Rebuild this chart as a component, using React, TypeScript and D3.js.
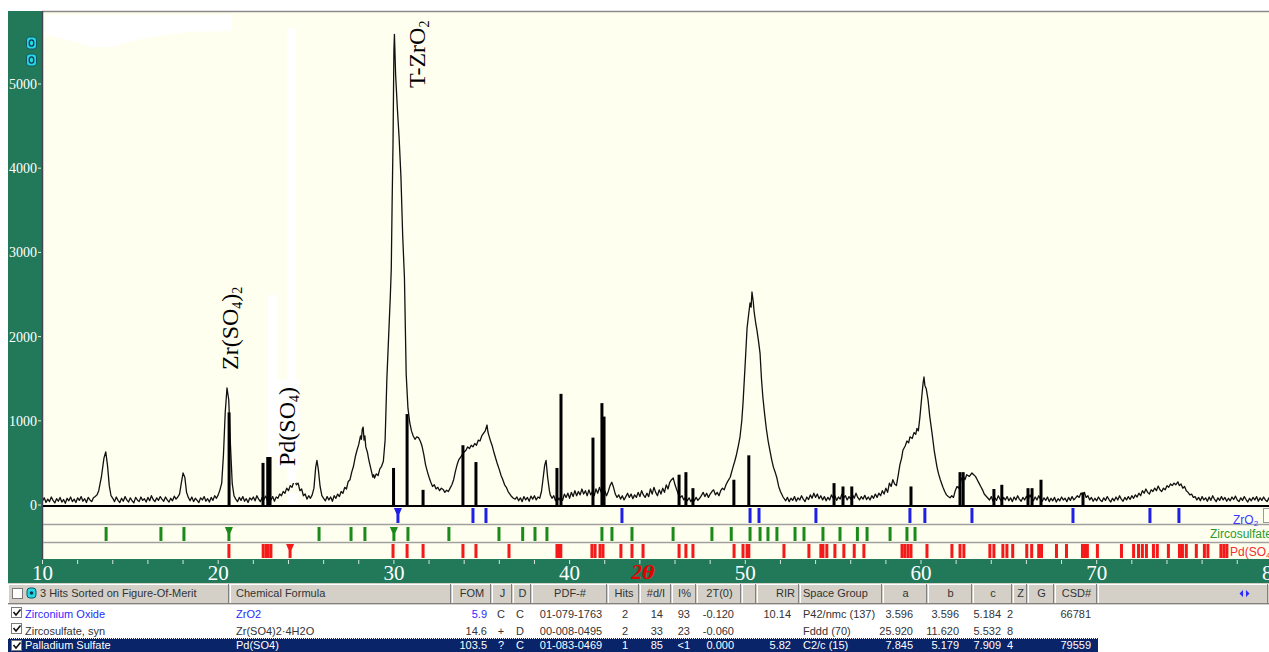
import React from 'react';
import * as d3 from 'd3';

const W = 1269;
const H = 652;

// ---- data ----
const yTickValues = [0, 1000, 2000, 3000, 4000, 5000];
const xLabelValues = [10, 20, 30, 40, 50, 60, 70, 80];

// measured XRD trace [2theta, counts]
const trace: [number, number][] = [
[10.0,50],[10.1,85],[10.2,30],[10.3,70],[10.4,40],[10.5,95],[10.6,55],[10.7,25],[10.8,75],[10.9,45],[11.0,90],[11.1,35],[11.2,65],[11.3,20],[11.4,80],[11.5,50],[11.6,95],[11.7,40],[11.8,70],[11.9,30],[12.0,85],[12.1,55],[12.2,100],[12.3,45],[12.4,75],[12.5,30],[12.6,90],[12.7,60],[12.8,40],[12.9,85],[13.0,100],[13.1,120],[13.2,170],[13.35,330],[13.5,560],[13.6,630],[13.7,470],[13.8,230],[13.9,110],
[14.0,80],[14.1,40],[14.2,95],[14.3,55],[14.4,30],[14.5,80],[14.6,45],[14.7,100],[14.8,60],[14.9,35],[15.0,85],[15.1,50],[15.2,25],[15.3,90],[15.4,60],[15.5,40],[15.6,95],[15.7,55],[15.8,75],[15.9,35],[16.0,90],[16.1,50],[16.2,110],[16.3,65],[16.4,40],[16.5,85],[16.6,55],[16.7,100],[16.8,70],[16.9,45],[17.0,95],[17.1,60],[17.2,35],[17.3,80],[17.4,50],[17.5,105],[17.6,70],[17.7,95],[17.8,130],[17.9,260],[18.0,380],[18.1,330],[18.2,150],
[18.3,90],[18.4,50],[18.5,95],[18.6,40],[18.7,80],[18.8,55],[18.9,30],[19.0,85],[19.1,60],[19.2,100],[19.3,45],[19.4,75],[19.5,35],[19.6,90],[19.7,55],[19.8,110],[19.9,80],[20.0,120],[20.1,180],[20.2,260],[20.3,600],[20.4,1100],[20.5,1390],[20.6,1250],[20.7,700],[20.8,250],
[20.9,110],[21.0,70],[21.1,40],[21.2,90],[21.3,55],[21.4,100],[21.5,45],[21.6,75],[21.7,30],[21.8,85],[21.9,60],[22.0,95],[22.1,50],[22.2,110],[22.3,70],[22.4,40],[22.5,90],[22.6,65],[22.7,105],[22.8,55],[22.9,85],[23.0,60],[23.1,100],[23.2,45],[23.3,95],[23.4,80],[23.5,130],[23.6,110],[23.7,160],[23.8,140],[23.9,200],[24.0,170],[24.1,230],[24.2,210],[24.35,300],[24.45,240],[24.55,260],[24.65,170],[24.75,190],[24.85,110],[24.95,130],[25.05,70],[25.15,110],[25.25,80],[25.35,120],[25.45,200],[25.55,450],[25.62,530],[25.7,420],[25.8,220],[25.9,110],
[26.0,80],[26.1,50],[26.2,100],[26.3,60],[26.4,95],[26.5,45],[26.6,110],[26.7,80],[26.8,130],[26.9,100],[27.0,160],[27.1,140],[27.2,210],[27.3,190],[27.4,280],[27.5,300],[27.6,390],[27.7,460],[27.8,570],[27.9,650],[28.0,720],[28.1,820],[28.15,780],[28.2,900],[28.25,925],[28.3,770],[28.35,820],[28.4,690],[28.5,620],[28.55,560],[28.6,510],[28.7,420],[28.8,330],[28.85,360],[28.9,320],[29.0,370],[29.1,350],[29.2,430],[29.3,460],[29.4,520],
[29.5,770],[29.6,1500],[29.7,2000],[29.8,2500],[29.85,2800],[29.9,3600],[29.95,4300],[30.0,5400],[30.03,5590],[30.1,5100],[30.2,4700],[30.3,4350],[30.4,3900],[30.5,3200],[30.6,2700],[30.7,1550],[30.8,1150],[30.9,980],
[31.0,880],[31.1,820],[31.2,780],[31.3,810],[31.4,800],[31.5,760],[31.6,700],[31.7,600],[31.8,480],[31.9,400],[32.0,330],[32.1,270],[32.2,220],[32.3,240],[32.4,190],[32.5,210],[32.6,170],[32.7,200],[32.8,185],[32.9,150],[33.0,175],[33.1,160],[33.2,200],[33.3,240],[33.4,300],[33.5,400],[33.6,480],[33.7,540],[33.8,570],[33.9,600],[34.0,630],[34.1,650],[34.2,690],[34.3,670],[34.4,710],[34.5,690],[34.6,730],[34.7,710],[34.8,770],[34.9,760],[35.0,820],[35.1,850],[35.2,880],[35.3,950],[35.35,870],[35.4,830],[35.5,760],[35.6,700],[35.7,620],[35.8,550],[35.9,480],[36.0,420],[36.1,350],[36.2,300],[36.3,240],[36.4,210],[36.5,160],[36.6,130],[36.7,100],[36.8,80],
[36.9,70],[37.0,95],[37.1,50],[37.2,85],[37.3,40],[37.4,100],[37.5,60],[37.6,90],[37.7,45],[37.8,105],[37.9,70],[38.0,110],[38.1,60],[38.2,95],[38.3,80],[38.4,160],[38.5,330],[38.58,470],[38.66,530],[38.75,330],[38.85,170],
[38.9,120],[39.0,80],[39.1,110],[39.2,50],[39.3,95],[39.4,60],[39.5,100],[39.6,55],[39.7,130],[39.8,90],[39.9,140],[40.0,80],[40.1,150],[40.2,100],[40.3,170],[40.4,110],[40.5,160],[40.6,120],[40.7,190],[40.8,130],[40.9,170],[41.0,110],[41.1,180],[41.2,120],[41.3,160],[41.4,110],[41.5,190],[41.6,140],[41.7,210],[41.8,150],[41.9,130],[42.0,170],[42.1,110],[42.2,160],[42.3,230],[42.4,270],[42.5,210],[42.6,130],[42.7,90],[42.8,120],[42.9,70],[43.0,110],[43.1,60],[43.2,100],[43.3,140],[43.4,90],[43.5,130],[43.6,75],[43.7,120],[43.8,90],[43.9,150],[44.0,100],[44.1,170],[44.2,120],[44.3,90],[44.4,140],[44.5,100],[44.6,190],[44.7,130],[44.8,210],[44.9,150],[45.0,110],[45.1,180],[45.2,130],[45.3,200],[45.4,150],[45.5,240],[45.6,190],[45.7,270],[45.8,300],[45.9,320],[46.0,240],[46.1,180],[46.2,120],[46.3,90],[46.4,110],[46.5,60],[46.6,90],[46.7,50],[46.8,85],[46.9,40],[47.0,75],[47.1,50],[47.2,90],[47.3,55],[47.4,80],[47.5,110],[47.6,150],[47.7,100],[47.8,140],[47.9,90],[48.0,130],[48.1,160],[48.2,180],[48.3,120],[48.4,150],[48.5,110],[48.6,170],[48.7,200],[48.8,180],[48.9,240],
[49.0,280],[49.14,330],[49.3,450],[49.4,520],[49.5,600],[49.6,700],[49.7,810],[49.8,1000],[49.87,1210],[50.0,1700],[50.1,2100],[50.2,2280],[50.27,2400],[50.33,2350],[50.38,2530],[50.45,2420],[50.5,2300],[50.6,2150],[50.66,2080],[50.75,1950],[50.84,1800],[50.92,1500],[51.0,1280],[51.1,1080],[51.2,900],[51.3,760],[51.4,650],[51.5,540],[51.6,450],[51.7,390],[51.8,320],[51.9,220],[52.0,160],
[52.15,95],[52.3,50],[52.4,90],[52.5,40],[52.6,80],[52.7,55],[52.8,100],[52.9,45],[53.0,85],[53.1,60],[53.2,110],[53.3,70],[53.4,40],[53.5,95],[53.6,65],[53.7,120],[53.8,80],[53.9,140],[54.0,90],[54.1,130],[54.2,75],[54.3,110],[54.4,60],[54.5,100],[54.6,50],[54.7,90],[54.8,60],[54.9,120],[55.0,80],[55.1,110],[55.2,55],[55.3,95],[55.4,70],[55.5,130],[55.6,85],[55.7,110],[55.8,60],[55.9,100],[56.0,70],[56.1,120],[56.2,80],[56.3,140],[56.4,90],[56.5,60],[56.6,100],[56.7,70],[56.8,115],[56.9,65],[57.0,95],[57.1,60],[57.2,110],[57.3,80],[57.4,130],[57.5,90],[57.6,140],[57.7,110],[57.8,170],[57.9,130],[58.0,200],[58.1,150],[58.2,260],[58.3,220],[58.4,300],[58.5,250],[58.6,230],[58.7,350],[58.8,480],
[58.9,560],[58.97,650],[59.1,700],[59.2,760],[59.3,740],[59.37,810],[59.5,790],[59.6,860],[59.7,840],[59.77,910],[59.85,880],[59.94,1050],[60.05,1300],[60.12,1450],[60.17,1520],[60.22,1420],[60.3,1380],[60.4,1250],[60.5,1050],[60.63,850],[60.75,650],[60.91,450],[61.0,370],[61.1,300],[61.25,210],[61.35,160],[61.45,120],[61.55,100],[61.65,85],[61.75,110],[61.85,90],
[61.95,170],[62.05,220],[62.15,200],[62.3,310],[62.4,340],[62.5,300],[62.6,360],[62.75,340],[62.9,380],[63.0,360],[63.1,340],[63.2,300],[63.3,260],[63.4,220],[63.5,180],[63.6,130],[63.75,95],
[63.9,60],[64.0,100],[64.1,45],[64.2,85],[64.3,55],[64.4,110],[64.5,70],[64.6,40],[64.7,90],[64.8,60],[64.9,100],[65.0,50],[65.1,85],[65.2,40],[65.3,95],[65.4,60],[65.5,110],[65.6,70],[65.7,45],[65.8,90],[65.9,60],[66.0,105],[66.1,65],[66.2,120],[66.3,80],[66.4,50],[66.5,95],[66.6,60],[66.7,110],[66.8,70],[66.9,45],[67.0,85],[67.1,55],[67.2,95],[67.3,40],[67.4,80],[67.5,50],[67.6,90],[67.7,35],[67.8,75],[67.9,50],[68.0,95],[68.1,60],[68.2,80],[68.3,40],[68.4,90],[68.5,55],[68.6,100],[68.7,60],[68.8,85],[68.9,110],[69.0,90],[69.1,140],[69.2,120],[69.3,150],[69.4,90],[69.5,110],[69.6,60],[69.7,90],[69.8,45],[69.9,80],[70.0,50],[70.1,95],[70.2,60],[70.3,40],[70.4,85],[70.5,55],[70.6,100],[70.7,65],[70.8,35],[70.9,80],[71.0,50],[71.1,95],[71.2,60],[71.3,110],[71.4,70],[71.5,45],[71.6,90],[71.7,60],[71.8,100],[71.9,65],[72.0,110],[72.1,80],[72.2,120],[72.3,95],[72.4,140],[72.5,110],[72.6,170],[72.7,140],[72.8,190],[72.9,150],[73.0,130],[73.1,180],[73.2,160],[73.3,200],[73.4,170],[73.5,225],[73.6,180],[73.7,160],[73.8,200],[73.9,180],[74.0,230],[74.1,210],[74.2,250],[74.3,230],[74.4,260],[74.5,240],[74.62,275],[74.7,230],[74.8,250],[74.9,200],[75.0,220],[75.1,170],[75.2,150],[75.3,120],[75.4,130],[75.5,90],[75.6,100],[75.7,60],
[75.8,90],[75.9,50],[76.0,100],[76.1,60],[76.2,85],[76.3,45],[76.4,95],[76.5,55],[76.6,110],[76.7,70],[76.8,40],[76.9,85],[77.0,55],[77.1,100],[77.2,60],[77.3,90],[77.4,45],[77.5,80],[77.6,50],[77.7,95],[77.8,65],[77.9,105],[78.0,60],[78.1,40],[78.2,85],[78.3,55],[78.4,100],[78.5,65],[78.6,35],[78.7,80],[78.8,50],[78.9,90],[79.0,60],[79.1,100],[79.2,45],[79.3,85],[79.4,55],[79.5,95],[79.6,60],[79.7,40],[79.8,85],[79.9,55],[80.0,70]
];

// sharp vertical spikes in the trace [2theta, counts]
const spikes: [number, number][] = [
[20.62,1100],[22.55,500],[22.82,570],[22.95,570],[29.98,440],[30.75,1080],[31.66,180],
[33.93,710],[34.67,510],[39.28,440],[39.51,1320],[41.33,800],[41.84,1210],[41.96,1050],
[46.23,360],[46.62,390],[47.02,200],[49.35,300],[50.2,590],[55.05,260],[55.56,220],
[56.06,220],[59.43,220],[62.22,390],[62.4,390],[64.15,190],[64.6,240],[66.09,200],
[66.32,200],[66.83,300],[69.22,150]
];

const zro2Sticks = [30.23, 34.5, 35.24, 42.98, 50.27, 50.78, 54.02, 59.37, 60.22, 62.9, 68.65, 73.03, 74.68];
const zro2Strong = [30.23];
const zircoSticks = [13.62, 16.74, 18.05, 20.61, 25.74, 27.56, 28.35, 30.0, 30.8, 33.13, 35.98, 37.33, 38.03, 38.71, 41.84, 42.41, 43.55, 45.89, 48.1, 49.2, 50.27, 50.84, 51.29, 51.8, 52.83, 53.34, 54.42, 55.39, 56.38, 56.93, 58.24, 59.2, 59.66];
const zircoStrong = [20.61, 30.0];
const pdSticks = [20.61, 22.56, 22.73, 22.84, 23.0, 24.09, 29.95, 30.75, 31.66, 33.93, 34.67, 36.55, 39.28, 39.4, 39.5, 41.27, 41.45, 41.73, 41.9, 42.92, 43.55, 44.18, 46.23, 46.62, 47.02, 49.36, 49.87, 50.1, 50.2, 52.2, 53.62, 54.3, 54.42, 54.64, 55.1, 55.61, 56.2, 56.75, 58.92, 59.08, 59.26, 59.43, 60.34, 61.76, 62.22, 62.44, 63.92, 64.15, 64.66, 64.89, 65.22, 66.02, 66.3, 66.7, 66.86, 67.71, 68.28, 69.19, 69.36, 69.47, 70.04, 71.41, 72.1, 72.38, 72.6, 72.83, 73.23, 73.45, 74.08, 74.71, 74.88, 75.1, 75.67, 76.13, 76.33, 77.07, 77.24, 77.41];
const pdStrong = [24.09];

// table
const headerLabels = ["3 Hits Sorted on Figure-Of-Merit", "Chemical Formula", "FOM", "J", "D", "PDF-#", "Hits", "#d/I", "I%", "2T(0)", "", "RIR", "Space Group", "a", "b", "c", "Z", "G", "CSD#", ""];
const columnEdges = [8, 230, 452, 492, 513, 532, 608, 640, 672, 697, 742, 757, 800, 883, 928, 973, 1013, 1028, 1055, 1098, 1269];
const phaseNames = ["Zirconium Oxide", "Zircosulfate, syn", "Palladium Sulfate"];
const formulas = ["ZrO2", "Zr(SO4)2·4H2O", "Pd(SO4)"];
const fomValues = ["5.9", "14.6", "103.5"];
const jValues = ["C", "+", "?"];
const dValues = ["C", "D", "C"];
const pdfNumbers = ["01-079-1763", "00-008-0495", "01-083-0469"];
const hitValues = ["2", "2", "1"];
const dIValues = ["14", "33", "85"];
const iPctValues = ["93", "23", "<1"];
const twoT0Values = ["-0.120", "-0.060", "0.000"];
const rirValues = ["10.14", "", "5.82"];
const spaceGroups = ["P42/nmc (137)", "Fddd (70)", "C2/c (15)"];
const aValues = ["3.596", "25.920", "7.845"];
const bValues = ["3.596", "11.620", "5.179"];
const cValues = ["5.184", "5.532", "7.909"];
const zValues = ["2", "8", "4"];
const csdValues = ["66781", "", "79559"];

const GREEN = '#22795a';
const CREAM = '#fffff0';
const SERIF = '"Liberation Serif", "Times New Roman", serif';
const SANS = '"Liberation Sans", Arial, sans-serif';

export default function App() {
  const x = d3.scaleLinear().domain([10, 80]).range([42.5, 1272.4]);
  const y = d3.scaleLinear().domain([0, 5000]).range([505, 84]);
  const line = d3.line<[number, number]>().x(d => x(d[0])).y(d => y(d[1]));
  const minorTicks = d3.range(10, 81, 2);

  const stickRows = [
    { data: zro2Sticks, strong: zro2Strong, color: '#1f1fe8', top: 508, bottom: 523 },
    { data: zircoSticks, strong: zircoStrong, color: '#1b8a1b', top: 527, bottom: 541 },
    { data: pdSticks, strong: pdStrong, color: '#f51a1a', top: 544, bottom: 558 },
  ];

  const rowTops = [605, 621, 638];
  const rowH = [16, 17, 14];

  const cols: { vals: string[]; align: 'start' | 'middle' | 'end'; pos: number }[] = [
    { vals: phaseNames, align: 'start', pos: 25 },
    { vals: formulas, align: 'start', pos: 236 },
    { vals: fomValues, align: 'end', pos: 487 },
    { vals: jValues, align: 'middle', pos: 501 },
    { vals: dValues, align: 'middle', pos: 520 },
    { vals: pdfNumbers, align: 'middle', pos: 571 },
    { vals: hitValues, align: 'middle', pos: 625 },
    { vals: dIValues, align: 'end', pos: 663 },
    { vals: iPctValues, align: 'end', pos: 690 },
    { vals: twoT0Values, align: 'end', pos: 734 },
    { vals: rirValues, align: 'end', pos: 791 },
    { vals: spaceGroups, align: 'start', pos: 803 },
    { vals: aValues, align: 'end', pos: 913 },
    { vals: bValues, align: 'end', pos: 959 },
    { vals: cValues, align: 'end', pos: 1001 },
    { vals: zValues, align: 'start', pos: 1007 },
    { vals: csdValues, align: 'end', pos: 1091 },
  ];

  return (
    <svg width={W} height={H} style={{ position: 'absolute', left: 0, top: 0, display: 'block', background: '#fff' }}>
      <defs>
        <clipPath id="plotClip">
          <rect x={43} y={12} width={W - 43} height={494} />
        </clipPath>
      </defs>
      {/* green frame */}
      <rect x={8} y={11} width={35} height={572} fill={GREEN} />
      <rect x={8} y={559} width={W - 8} height={24} fill={GREEN} />
      {/* plot background */}
      <rect x={43} y={12} width={W - 43} height={547} fill={CREAM} />
      <line x1={42} y1={11.5} x2={W} y2={11.5} stroke="#8a8a8a" strokeWidth={1.5} />
      <line x1={42.5} y1={11} x2={42.5} y2={559} stroke="#445" strokeWidth={1.5} />

      {/* cyan icons */}
      {[37, 54].map((t, i) => (
        <g key={i}>
          <rect x={26.5} y={t} width={10} height={12} rx={3} fill="#27d6e6" stroke="#0b5a66" strokeWidth={1} />
          <ellipse cx={31.5} cy={t + 6} rx={2.3} ry={3.2} fill="none" stroke="#0b3a44" strokeWidth={1.3} />
        </g>
      ))}

      {/* y axis labels */}
      {yTickValues.map(v => (
        <g key={v}>
          <text x={37} y={y(v) + 5} fill="#fff" fontFamily={SERIF} fontSize={14} textAnchor="end">{v}</text>
          <line x1={38} y1={y(v)} x2={41} y2={y(v)} stroke="#cfd" strokeWidth={1} />
        </g>
      ))}

      {/* pattern */}
      <g clipPath="url(#plotClip)">
        <path d={line(trace) || ''} fill="none" stroke="#111" strokeWidth={1.3} strokeLinejoin="round" />
        {spikes.map((s, i) => (
          <rect key={i} x={x(s[0]) - 1.5} y={y(s[1])} width={3} height={y(0) - y(s[1])} fill="#000" />
        ))}
      </g>

      {/* white erasure patches */}
      <path d="M45,15 L232,15 L232,31 L185,32 L135,40 L112,47 L92,47 L68,40 L45,34 Z" fill="#fff" />
      <rect x={287} y={28} width={9} height={455} fill="#fff" />
      <rect x={268} y={295} width={9} height={162} fill="#fff" />
      <rect x={277} y={380} width={22} height={88} fill="#fff" />
      <rect x={287} y={493} width={11} height={11} fill="#fff" />

      {/* axis baseline */}
      <line x1={43} y1={506} x2={W} y2={506} stroke="#000" strokeWidth={2.2} />

      {/* peak labels */}
      <text transform="translate(425,88) rotate(-90)" fontFamily={SERIF} fontSize={24} fill="#000">
        T-ZrO<tspan fontSize={14} dy={4}>2</tspan>
      </text>
      <text transform="translate(238,370) rotate(-90)" fontFamily={SERIF} fontSize={24} fill="#000">
        Zr(SO<tspan fontSize={14} dy={4}>4</tspan><tspan dy={-4}>)</tspan><tspan fontSize={14} dy={4}>2</tspan>
      </text>
      <text transform="translate(295,466) rotate(-90)" fontFamily={SERIF} fontSize={24} fill="#000">
        Pd(SO<tspan fontSize={14} dy={4}>4</tspan><tspan dy={-4}>)</tspan>
      </text>

      {/* stick rows */}
      <line x1={43} y1={524.5} x2={W} y2={524.5} stroke="#a0a0a0" strokeWidth={1.5} />
      <line x1={43} y1={542.5} x2={W} y2={542.5} stroke="#a0a0a0" strokeWidth={1.5} />
      {stickRows.map((r, ri) => (
        <g key={ri} fill={r.color}>
          {r.data.map((d, i) => {
            const cx = x(d);
            if (r.strong.includes(d)) {
              return (
                <path key={i} d={`M${cx - 4},${r.top} L${cx + 4},${r.top} L${cx + 1.5},${r.top + 6} L${cx + 1.5},${r.bottom} L${cx - 1.5},${r.bottom} L${cx - 1.5},${r.top + 6} Z`} />
              );
            }
            return <rect key={i} x={cx - 1.5} y={r.top} width={3} height={r.bottom - r.top} />;
          })}
        </g>
      ))}
      <text x={1233} y={524} fill="#3a3aff" fontFamily={SANS} fontSize={12}>ZrO<tspan fontSize={8} dy={2}>2</tspan></text>
      <rect x={1263.5} y={508.5} width={10} height={14} fill="none" stroke="#9a9a9a" />
      <text x={1210} y={538} fill="#2a9a2a" fontFamily={SANS} fontSize={12}>Zircosulfate</text>
      <text x={1230} y={556} fill="#f03030" fontFamily={SANS} fontSize={12}>Pd(SO<tspan fontSize={8} dy={2}>4</tspan></text>

      {/* x axis */}
      {minorTicks.map(t => (
        <line key={t} x1={x(t)} y1={560} x2={x(t)} y2={564} stroke="#d8e8e0" strokeWidth={1} />
      ))}
      {xLabelValues.map(v => (
        <text key={v} x={x(v)} y={580} fill="#fff" fontFamily={SERIF} fontSize={21} textAnchor="middle">{v}</text>
      ))}
      <text x={643} y={579} fill="#e80000" fontFamily={SERIF} fontSize={21} fontStyle="italic" fontWeight="bold" textAnchor="middle">2<tspan fontFamily='"DejaVu Serif", serif' fontSize={19}>θ</tspan></text>

      {/* table header */}
      <rect x={8} y={583} width={W - 8} height={22} fill="#d4d0c8" />
      {columnEdges.slice(0, -1).map((e, i) => {
        const r = columnEdges[i + 1];
        const label = headerLabels[i];
        let tx = (e + r) / 2;
        let anchor: 'start' | 'middle' | 'end' = 'middle';
        if (i === 0) { tx = 40; anchor = 'start'; }
        if (i === 1) { tx = e + 6; anchor = 'start'; }
        if (label === 'RIR') { tx = r - 5; anchor = 'end'; }
        if (label === 'Space Group') { tx = e + 3; anchor = 'start'; }
        return (
          <g key={i}>
            <line x1={e + 0.5} y1={584} x2={e + 0.5} y2={603} stroke="#fff" />
            <line x1={e} y1={584.5} x2={r} y2={584.5} stroke="#fff" />
            <line x1={r - 1.5} y1={584} x2={r - 1.5} y2={604} stroke="#808080" />
            <line x1={e} y1={603.5} x2={r} y2={603.5} stroke="#808080" />
            {label && (
              <text x={tx} y={597} fill="#333" fontFamily={SANS} fontSize={11} textAnchor={anchor}>{label}</text>
            )}
          </g>
        );
      })}
      <rect x={12.5} y={588.5} width={10} height={10} fill="#fff" stroke="#7a7a7a" />
      <rect x={27} y={588} width={9} height={10} rx={3} fill="#27d6e6" stroke="#0b5a66" />
      <circle cx={31.5} cy={593} r={1.8} fill="#0b3a44" />
      <path d="M1243,590 L1243,597 L1239.5,593.5 Z M1246,590 L1246,597 L1249.5,593.5 Z" fill="#2a2aff" />

      {/* table rows */}
      <rect x={8} y={605} width={W - 8} height={33} fill="#fff" />
      <rect x={8} y={638} width={1090} height={14} fill="#0a246a" />
      <line x1={8} y1={638.5} x2={1098} y2={638.5} stroke="#fff" strokeDasharray="1,1" />
      {rowTops.map((t, ri) => (
        <g key={ri}>
          <rect x={11.5} y={t + 2.5} width={10} height={10} fill="#fff" stroke="#7a7a7a" />
          <path d={`M13.5,${t + 7} L16,${t + 10} L20.5,${t + 4.5}`} fill="none" stroke="#111" strokeWidth={1.6} />
          {cols.map((c, ci) => {
            let fill = '#333';
            if (ri === 0 && ci <= 2) fill = '#2a2aff';
            if (ri === 2) fill = '#fff';
            return (
              <text key={ci} x={c.pos} y={t + rowH[ri] - 3} fill={fill} fontFamily={SANS} fontSize={11} textAnchor={c.align}>{c.vals[ri]}</text>
            );
          })}
        </g>
      ))}
    </svg>
  );
}
